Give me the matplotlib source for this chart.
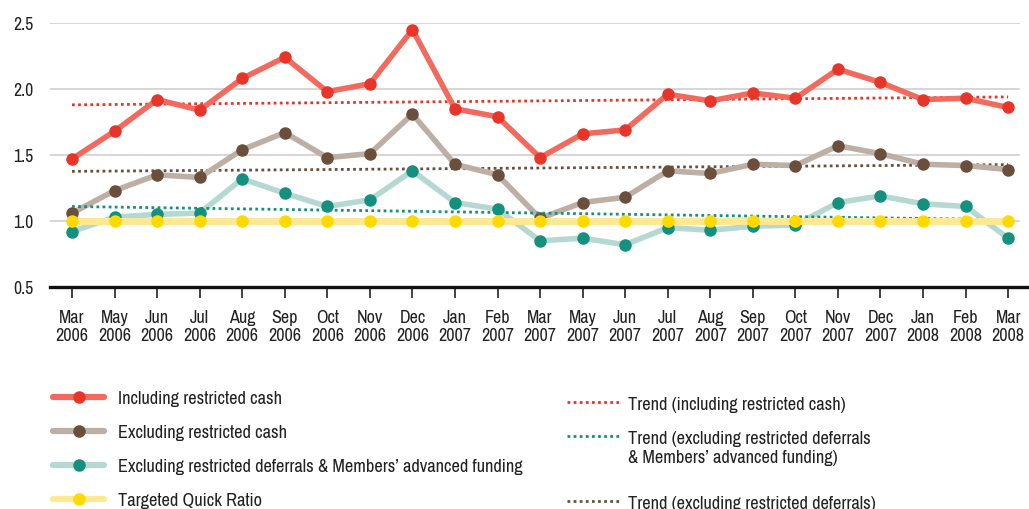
import matplotlib
matplotlib.use("Agg")
import matplotlib.pyplot as plt
from matplotlib.lines import Line2D
from matplotlib import font_manager
from matplotlib.font_manager import FontProperties
from matplotlib.textpath import TextPath

months = ['Mar\n2006', 'May\n2006', 'Jun\n2006', 'Jul\n2006', 'Aug\n2006', 'Sep\n2006',
          'Oct\n2006', 'Nov\n2006', 'Dec\n2006', 'Jan\n2007', 'Feb\n2007', 'Mar\n2007',
          'May\n2007', 'Jun\n2007', 'Jul\n2007', 'Aug\n2007', 'Sep\n2007', 'Oct\n2007',
          'Nov\n2007', 'Dec\n2007', 'Jan\n2008', 'Feb\n2008', 'Mar\n2008']

incl_cash = [1.47, 1.68, 1.92, 1.84, 2.08, 2.24, 1.98, 2.04, 2.45, 1.85, 1.79, 1.48,
             1.66, 1.69, 1.96, 1.91, 1.97, 1.93, 2.15, 2.05, 1.92, 1.93, 1.86]
excl_cash = [1.06, 1.23, 1.35, 1.33, 1.54, 1.67, 1.48, 1.51, 1.81, 1.43, 1.35, 1.02,
             1.14, 1.18, 1.38, 1.36, 1.43, 1.42, 1.57, 1.51, 1.43, 1.42, 1.39]
excl_deferrals = [0.92, 1.03, 1.05, 1.06, 1.32, 1.21, 1.11, 1.16, 1.38, 1.14, 1.09, 0.85,
                  0.87, 0.82, 0.95, 0.93, 0.96, 0.97, 1.14, 1.19, 1.13, 1.11, 0.87]
target = [1.0] * 23

# trend lines: start / end values
trend_incl = [1.88, 1.94]
trend_defer = [1.11, 1.01]
trend_excl = [1.376, 1.427]

labels_left = ['Including restricted cash', 'Excluding restricted cash',
               'Excluding restricted deferrals & Members\u2019 advanced funding',
               'Targeted Quick Ratio']
labels_right = ['Trend (including restricted cash)',
                'Trend (excluding restricted deferrals\n& Members\u2019 advanced funding)',
                'Trend (excluding restricted deferrals)']

red_l, red_m = '#f26a5e', '#e8352a'
brn_l, brn_m = '#bdafa4', '#6b4f3c'
tea_l, tea_m = '#b6d8d2', '#14907e'
yel_l, yel_m = '#fde994', '#ffd900'
txt = '#222222'

# --- font: reference is a condensed grotesque; pick the narrow face whose
# cap height is closest when its width matches, then size text by width
def extent(s, fp):
    e = TextPath((0, 0), s, size=10, prop=fp).get_extents()
    return e.width * 100 / 72, e.height * 100 / 72  # px at 10pt, 100 dpi

cands = []
for f in font_manager.fontManager.ttflist:
    n = f.name.lower()
    narrow = 'narrow' in n or 'condensed' in n or f.stretch in ('condensed', 'semi-condensed', 'extra-condensed')
    if narrow and f.style == 'normal' and f.weight in (400, 'normal', 'regular', 'book'):
        cands.append(f)

def cap_err(f):
    fp = FontProperties(fname=f.fname)
    w, _ = extent('Including restricted cash', fp)
    size = 10 * 162 / w
    _, cap = extent('I', fp)
    return abs(cap * size / 10 - 12.5)

if cands:
    best = min(cands, key=cap_err)
    fp_main = FontProperties(fname=best.fname)
    plt.rcParams['font.family'] = [best.name, 'DejaVu Sans']
    plt.rcParams['font.stretch'] = best.stretch
else:
    fp_main = FontProperties(family='Liberation Sans')
    plt.rcParams['font.family'] = ['Liberation Sans', 'DejaVu Sans']

fs_leg = 10 * 162 / extent('Including restricted cash', fp_main)[0]
fs_tick = 10 * 31.5 / extent('2006', fp_main)[0]
fs_y = 10 * 19 / extent('2.5', fp_main)[0]

fig = plt.figure(figsize=(10.29, 5.10), dpi=100)
ax = fig.add_axes([50/1029, 222/510, 979/1029, 264/510])

x = list(range(len(months)))
x_end = [x[0], x[-1]]

for v in [1.0, 1.5, 2.0, 2.5]:
    ax.axhline(v, xmin=0, xmax=969/979, color='#cfcfcf', lw=1.2, zorder=1)

ls_dot = (0, (1, 1.2))
ax.plot(x_end, trend_incl, color=red_m, lw=2, ls=ls_dot, zorder=3)
ax.plot(x_end, trend_excl, color=brn_m, lw=2, ls=ls_dot, zorder=3)

series = [(excl_deferrals, tea_l, tea_m), (excl_cash, brn_l, brn_m), (incl_cash, red_l, red_m)]
z = 4
for vals, lc, mc in series:
    ax.plot(x, vals, color=lc, lw=4, zorder=z, solid_capstyle='round')
    ax.plot(x, vals, 'o', color=mc, ms=9, mec='none', zorder=z + 0.5)
    z += 1

ax.plot(x_end, trend_defer, color=tea_m, lw=2, ls=ls_dot, zorder=7.8)
ax.plot(x, target, color=yel_l, lw=5, zorder=8)
ax.plot(x, target, 'o', color=yel_m, ms=9, mec='none', zorder=8.5)

ax.set_xlim(-0.517, 22.49)
ax.set_ylim(0.5, 2.5)
ax.set_yticks([0.5, 1.0, 1.5, 2.0, 2.5])
ax.set_yticklabels(['0.5', '1.0', '1.5', '2.0', '2.5'])
ax.set_xticks(x)
ax.set_xticklabels(months, linespacing=1.15)
for s in ['top', 'right', 'left']:
    ax.spines[s].set_visible(False)
ax.spines['bottom'].set_linewidth(2.4)
ax.spines['bottom'].set_color('#111111')
ax.tick_params(axis='y', length=0, pad=12, labelsize=fs_y, labelcolor=txt)
ax.tick_params(axis='x', length=8, width=1.2, color='#222222', pad=8, labelsize=fs_tick, labelcolor=txt)

# legend drawn by hand
H = 510
left_cols = [(red_l, red_m), (brn_l, brn_m), (tea_l, tea_m), (yel_l, yel_m)]
for i, ((lc, mc), lab) in enumerate(zip(left_cols, labels_left)):
    yy = 1 - (398 + 34 * i) / H
    fig.add_artist(Line2D([53/1029, 104/1029], [yy, yy], color=lc, lw=4.5, solid_capstyle='round'))
    fig.add_artist(Line2D([79/1029], [yy], marker='o', color=mc, ms=9, mec='none'))
    fig.text(118/1029, 1 - (404 + 34 * i) / H, lab, va='baseline', ha='left',
             fontsize=fs_leg, color=txt)

right_cols = [red_m, tea_m, brn_m]
right_y = [403, 437, 502]
for c, yp, lab in zip(right_cols, right_y, labels_right):
    yy = 1 - yp / H
    fig.add_artist(Line2D([567/1029, 620/1029], [yy, yy], color=c, lw=2, ls=ls_dot))
    fig.text(628/1029, 1 - (yp - 6) / H, lab, va='top', ha='left', fontsize=fs_leg,
             color=txt, linespacing=1.2)

fig.savefig('out.png', dpi=100)
